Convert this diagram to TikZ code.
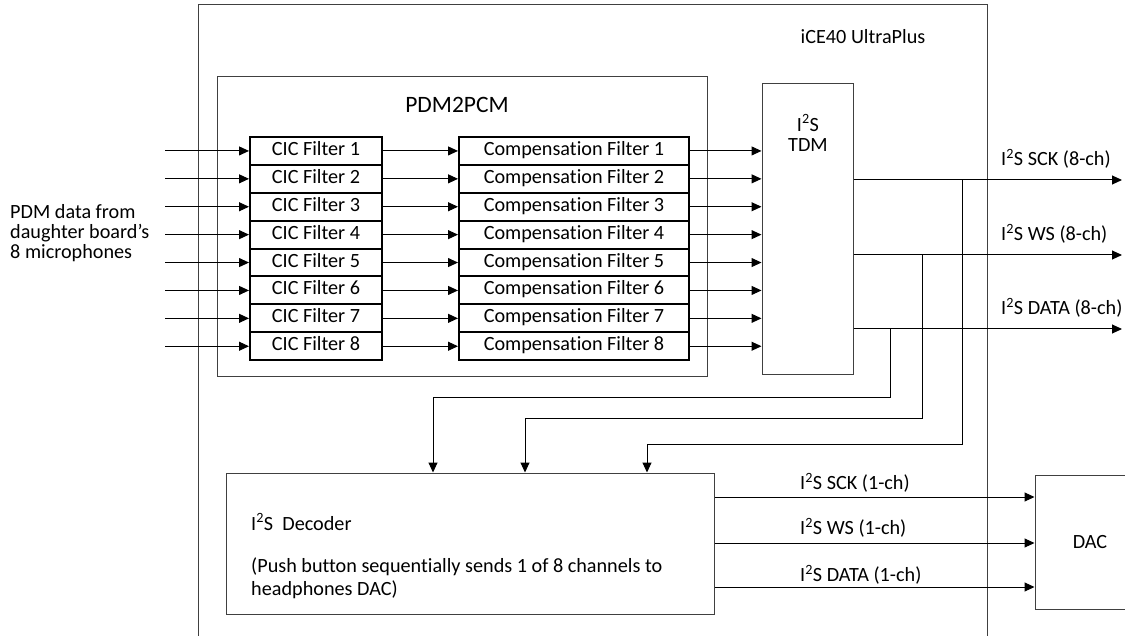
\documentclass[tikz,border=0pt]{standalone}
\usepackage{fontspec}
\setmainfont{Carlito}[Ligatures=NoCommon]
\usetikzlibrary{arrows.meta}
\tikzset{%
  frame/.style   = {draw=black!75, line width=1pt},%
  filt/.style    = {draw, line width=2pt, inner sep=0pt,%
                    minimum height=27.9pt, text height=13pt, text depth=4pt},%
  cicbox/.style  = {filt, minimum width=132pt},%
  compbox/.style = {filt, minimum width=230pt},%
  blk/.style     = {draw=black!75, line width=1pt, inner sep=0pt},%
  sig/.style     = {line width=1pt, -{Triangle[length=10pt,width=9pt]}},%
  lbl/.style     = {anchor=west, inner sep=0pt}%
}
\begin{document}
\begin{tikzpicture}[x=1pt, y=-1pt, every node/.style={font=\fontsize{20.2}{20}\selectfont}]
	\useasboundingbox (0,0) rectangle (1125,636);
	% chip outline, open at the bottom
	\draw[frame] (198,640) |- (987,5) -- (987,640);
	\node (chip) at (863,37) {iCE40 UltraPlus};
	% PDM2PCM block
	\draw[frame] (217,77) rectangle (707,377);
	\node (pdm) at (457,105) [font=\fontsize{23.5}{24}\selectfont] {PDM2PCM};
	\node (mics) [anchor=west, align=left, inner sep=0pt] at (10,233)
		{PDM data from\\daughter board's\\8 microphones};
	\foreach \i in {1,...,8} {
		\node[cicbox] (cic\i) at (316,{123.05+27.9*\i}) {CIC Filter \i};
		\node[compbox] (comp\i) at (574,{123.05+27.9*\i}) {Compensation Filter \i};
		\coordinate (in\i) at (165,{123.05+27.9*\i});
		\draw[sig] (in\i) -- (cic\i);
		\draw[sig] (cic\i) -- (comp\i);
	}
	% I2S TDM
	\node[blk, minimum width=91pt, minimum height=291pt] (tdm) at (807.5,229.5) {};
	\node (tdmname) [align=center] at (808,133) {I\textsuperscript{2}S\\TDM};
	\foreach \i in {1,...,8}
		\draw[sig] (comp\i) -- (comp\i -| tdm.west);
	% 8-ch outputs
	\coordinate (sck8) at (1122,180);
	\coordinate (ws8) at (1122,255);
	\coordinate (data8) at (1122,329);
	\draw[sig] (sck8 -| tdm.east) -- (sck8);
	\draw[sig] (ws8 -| tdm.east) -- (ws8);
	\draw[sig] (data8 -| tdm.east) -- (data8);
	\node[lbl] (sck8lbl) at (1001,159) {I\textsuperscript{2}S SCK (8-ch)};
	\node[lbl] (ws8lbl) at (1001,234) {I\textsuperscript{2}S WS (8-ch)};
	\node[lbl] (data8lbl) at (1001,308) {I\textsuperscript{2}S DATA (8-ch)};
	% decoder
	\node[blk, minimum width=488pt, minimum height=141pt] (dec) at (470,543.5) {};
	\node (decname) [anchor=west, inner sep=0pt] at (251,522) {I\textsuperscript{2}S~~Decoder};
	\node (decnote) [anchor=north west, align=left, inner sep=0pt] at (251,558)
		{(Push button sequentially sends 1 of 8 channels to\\[3pt]headphones DAC)};
	% taps down to the decoder
	\coordinate (datatap) at (890,329);
	\coordinate (databend) at (433,397);
	\coordinate (wstap) at (922,255);
	\coordinate (wsbend) at (525,418);
	\coordinate (scktap) at (962,180);
	\coordinate (sckbend) at (647,444);
	\draw[sig] (datatap) |- (databend) -- (databend |- dec.north);
	\draw[sig] (wstap) |- (wsbend) -- (wsbend |- dec.north);
	\draw[sig] (scktap) |- (sckbend) -- (sckbend |- dec.north);
	% DAC, runs off the right edge
	\node[blk, minimum width=110pt, minimum height=134pt] (dac) at (1090,542) {DAC};
	\coordinate (sck1) at (dac.west |- 0,497);
	\coordinate (ws1) at (dac.west |- 0,543);
	\coordinate (data1) at (dac.west |- 0,587);
	\draw[sig] (sck1 -| dec.east) -- (sck1);
	\draw[sig] (ws1 -| dec.east) -- (ws1);
	\draw[sig] (data1 -| dec.east) -- (data1);
	\node[lbl] (sck1lbl) at (800,483) {I\textsuperscript{2}S SCK (1-ch)};
	\node[lbl] (ws1lbl) at (800,528) {I\textsuperscript{2}S WS (1-ch)};
	\node[lbl] (data1lbl) at (800,575) {I\textsuperscript{2}S DATA (1-ch)};
\end{tikzpicture}
\end{document}
